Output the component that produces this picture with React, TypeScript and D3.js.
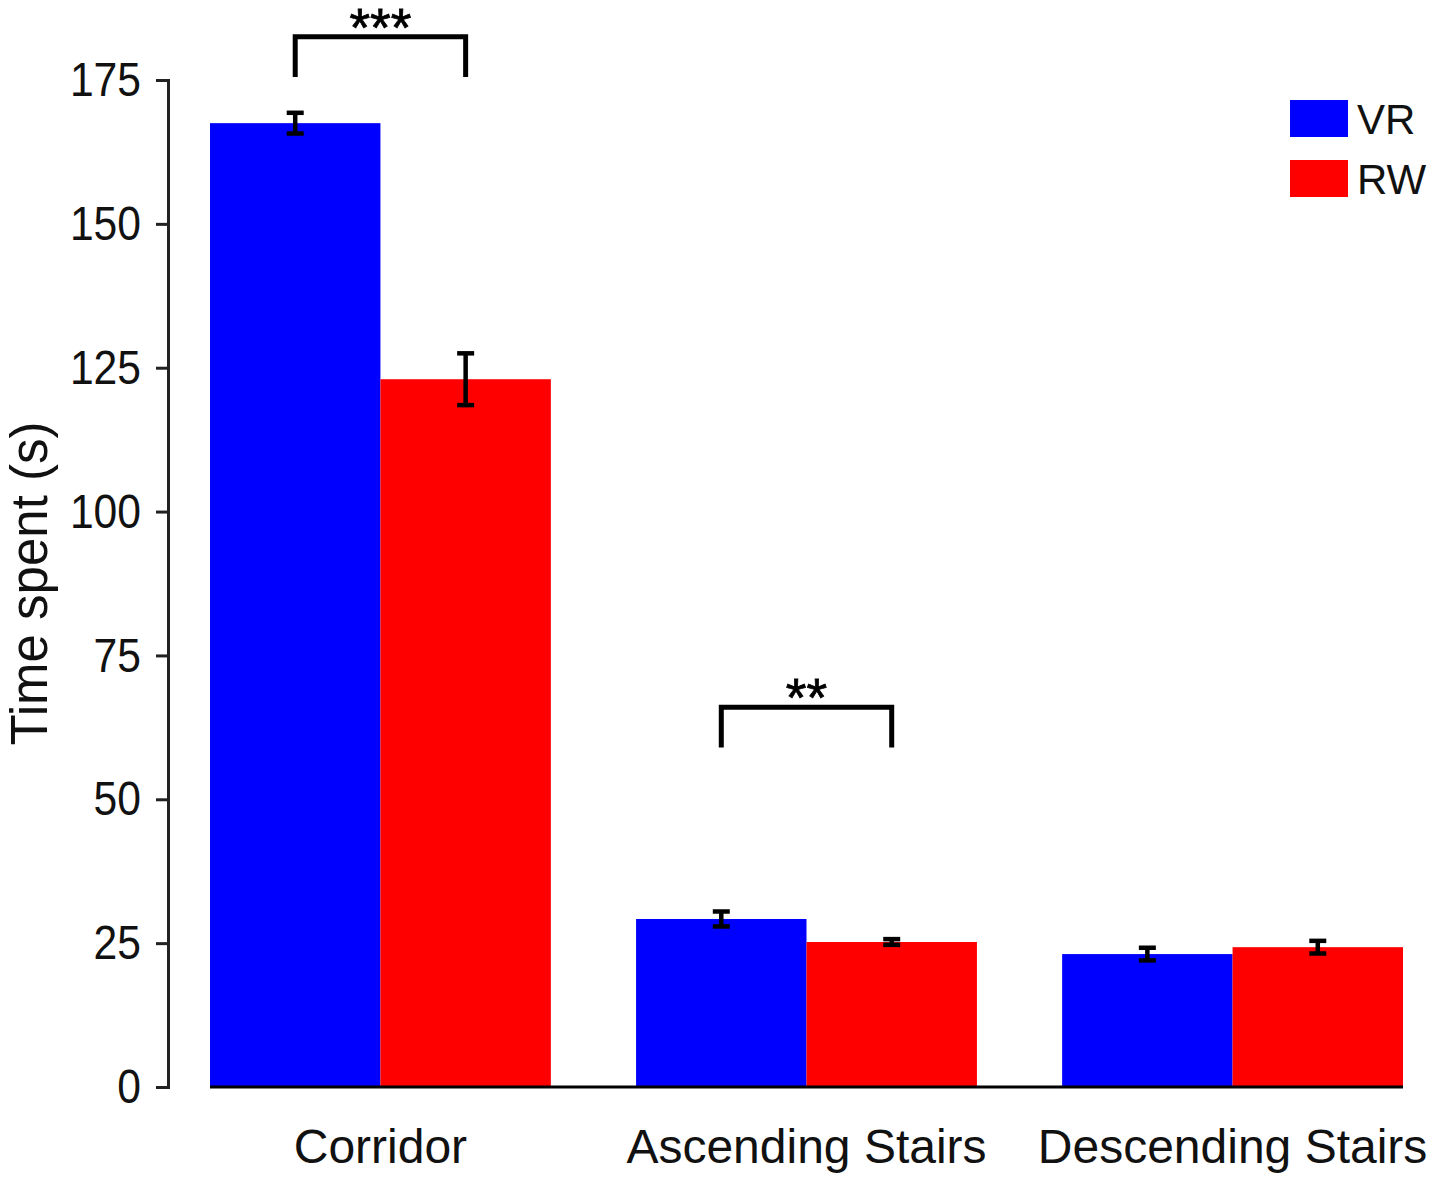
import { useRef, useEffect } from 'react'
import * as d3 from 'd3'

const categories = ['Corridor', 'Ascending Stairs', 'Descending Stairs']
const seriesNames = ['VR', 'RW']
const seriesColors = ['#0000ff', '#ff0000']
const vrMeans = [167.5, 29.2, 23.1]
const vrErrors = [1.8, 1.3, 1.1]
const rwMeans = [123.0, 25.2, 24.3]
const rwErrors = [4.5, 0.5, 1.1]
const yTicks = [0, 25, 50, 75, 100, 125, 150, 175]

// significance brackets: group index, bracket top (data units), label
const sigGroups = [0, 1]
const sigTops = [182.5, 66]
const sigLabels = ['***', '**']

const W = 1433
const H = 1178
const FONT = '"Liberation Sans", Arial, Helvetica, sans-serif'

export default function App() {
  const svgRef = useRef<SVGSVGElement>(null)

  useEffect(() => {
    if (!svgRef.current) return
    const svg = d3.select(svgRef.current)
    svg.selectAll('*').remove()

    const y = d3.scaleLinear().domain([0, 175]).range([1087, 80])
    const x = d3.scaleBand<string>()
      .domain(categories)
      .range([210, 1403])
      .paddingInner(0.2)
      .paddingOuter(0)
    const xs = d3.scaleBand<string>()
      .domain(seriesNames)
      .range([0, x.bandwidth()])

    const means = [vrMeans, rwMeans]
    const errs = [vrErrors, rwErrors]

    const rows = categories.flatMap((c, ci) =>
      seriesNames.map((s, si) => ({
        cat: c,
        series: s,
        color: seriesColors[si],
        mean: means[si][ci],
        err: errs[si][ci]
      }))
    )

    // bars
    svg.append('g')
      .selectAll('rect')
      .data(rows)
      .join('rect')
      .attr('x', d => (x(d.cat) ?? 0) + (xs(d.series) ?? 0))
      .attr('width', xs.bandwidth())
      .attr('y', d => y(d.mean))
      .attr('height', d => y(0) - y(d.mean))
      .attr('fill', d => d.color)

    // baseline
    svg.append('line')
      .attr('x1', x.range()[0])
      .attr('x2', x.range()[1])
      .attr('y1', y(0))
      .attr('y2', y(0))
      .attr('stroke', '#000')
      .attr('stroke-width', 3)

    // error bars
    const cx = (d: { cat: string; series: string }) =>
      (x(d.cat) ?? 0) + (xs(d.series) ?? 0) + xs.bandwidth() / 2
    const eg = svg.append('g').attr('stroke', '#000').attr('stroke-width', 4.5)
    rows.forEach(d => {
      const c = cx(d)
      eg.append('line')
        .attr('x1', c).attr('x2', c)
        .attr('y1', y(d.mean + d.err)).attr('y2', y(d.mean - d.err))
      ;[d.mean + d.err, d.mean - d.err].forEach(v => {
        eg.append('line')
          .attr('x1', c - 8.5).attr('x2', c + 8.5)
          .attr('y1', y(v)).attr('y2', y(v))
      })
    })

    // y axis
    const yAxis = svg.append('g')
      .attr('transform', 'translate(168,0)')
      .call(
        d3.axisLeft(y)
          .tickValues(yTicks)
          .tickSize(12)
          .tickSizeOuter(12)
          .tickPadding(15)
      )
    yAxis.select('.domain').attr('stroke', '#222').attr('stroke-width', 3)
    yAxis.selectAll('.tick line').attr('stroke', '#222').attr('stroke-width', 3)
    // tick numbers are drawn narrow in the original
    yAxis.selectAll('.tick text')
      .attr('font-family', FONT)
      .attr('font-size', 49)
      .attr('fill', '#111')
      .attr('x', -27 / 0.87)
      .attr('transform', 'scale(0.87,1)')

    // y label
    svg.append('text')
      .attr('transform', `translate(47,${(y(0) + y(175)) / 2}) rotate(-90)`)
      .attr('text-anchor', 'middle')
      .attr('font-family', FONT)
      .attr('font-size', 51)
      .attr('fill', '#111')
      .text('Time spent (s)')

    // category labels
    svg.append('g')
      .selectAll('text')
      .data(categories)
      .join('text')
      .attr('x', d => (x(d) ?? 0) + x.bandwidth() / 2)
      .attr('y', 1163)
      .attr('text-anchor', 'middle')
      .attr('font-family', FONT)
      .attr('font-size', 48)
      .attr('fill', '#111')
      .text(d => d)

    // significance brackets
    const sg = svg.append('g')
    sigGroups.forEach((gi, i) => {
      const cat = categories[gi]
      const x1 = cx({ cat, series: seriesNames[0] })
      const x2 = cx({ cat, series: seriesNames[1] })
      const top = y(sigTops[i])
      const legEnd = y(sigTops[i] - 7)
      sg.append('path')
        .attr('d', `M${x1},${legEnd}V${top}H${x2}V${legEnd}`)
        .attr('fill', 'none')
        .attr('stroke', '#000')
        .attr('stroke-width', 5)
      sg.append('text')
        .attr('x', (x1 + x2) / 2)
        .attr('y', top + 9)
        .attr('text-anchor', 'middle')
        .attr('font-family', FONT)
        .attr('font-size', 53)
        .attr('stroke', '#000')
        .attr('stroke-width', 0.8)
        .attr('fill', '#000')
        .text(sigLabels[i])
    })

    // legend
    const lg = svg.append('g').attr('transform', 'translate(1290,100)')
    seriesNames.forEach((s, i) => {
      lg.append('rect')
        .attr('x', 0)
        .attr('y', i * 60)
        .attr('width', 58)
        .attr('height', 37)
        .attr('fill', seriesColors[i])
      lg.append('text')
        .attr('x', 67)
        .attr('y', i * 60 + 34)
        .attr('font-family', FONT)
        .attr('font-size', 42)
        .attr('fill', '#111')
        .text(s)
    })
  }, [])

  return (
    <svg
      ref={svgRef}
      width={W}
      height={H}
      style={{ position: 'absolute', left: 0, top: 0, background: '#fff' }}
    />
  )
}
